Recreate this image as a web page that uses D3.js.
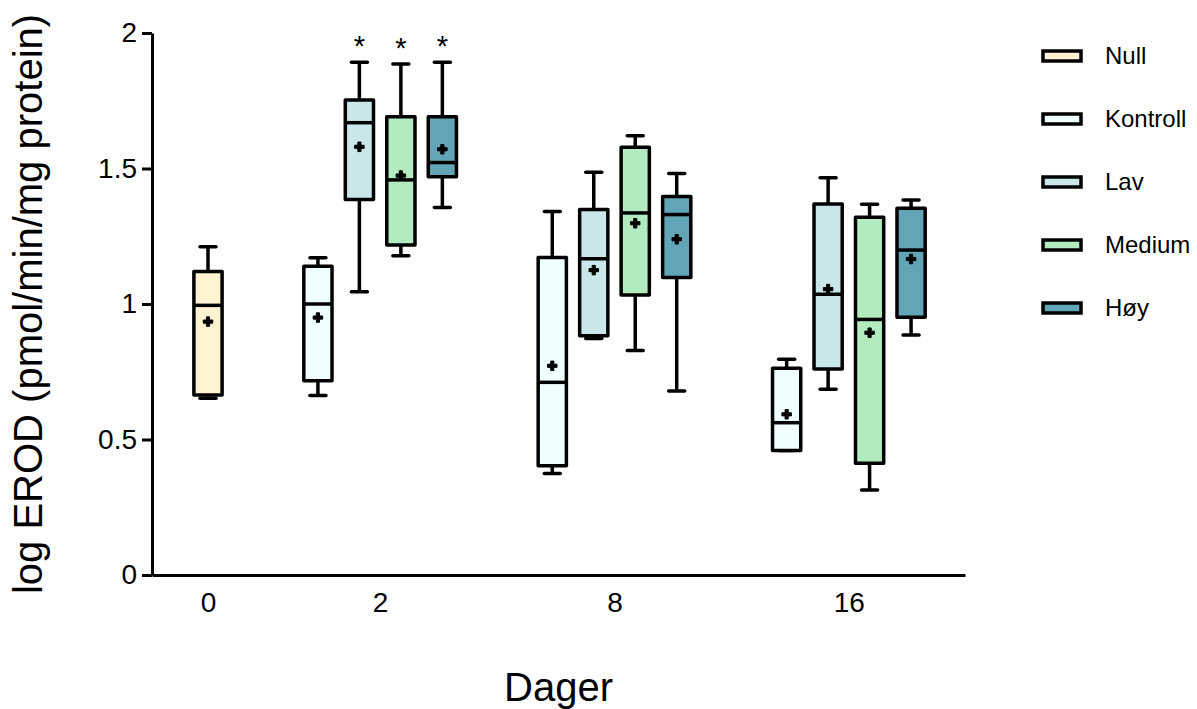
<!DOCTYPE html>
<html>
<head>
<meta charset="utf-8">
<script src="https://cdn.jsdelivr.net/npm/d3@7"></script>
<style>
  body { margin: 0; background: #fff; }
  svg { font-family: "Liberation Sans", Arial, sans-serif; }
</style>
</head>
<body>
<svg id="chart"></svg>
<script>
const days = ["0", "2", "8", "16"];
const series = ["Null", "Kontroll", "Lav", "Medium", "Høy"];
const seriesColors = ["#fff3d1", "#f0ffff", "#c9e6e9", "#b2ebbf", "#62a5b7"];

// one entry per box, in plotting order
const boxDays = ["0", "2", "2", "2", "2", "8", "8", "8", "8", "16", "16", "16", "16"];
const boxSeries = ["Null", "Kontroll", "Lav", "Medium", "Høy", "Kontroll", "Lav", "Medium", "Høy", "Kontroll", "Lav", "Medium", "Høy"];
const whiskerLow = [0.652, 0.662, 1.045, 1.178, 1.356, 0.375, 0.873, 0.828, 0.679, 0.459, 0.685, 0.314, 0.886];
const q1 = [0.664, 0.717, 1.386, 1.218, 1.470, 0.403, 0.883, 1.033, 1.098, 0.459, 0.760, 0.412, 0.951];
const medians = [0.995, 1.000, 1.669, 1.458, 1.522, 0.711, 1.167, 1.336, 1.330, 0.562, 1.036, 0.943, 1.199];
const q3 = [1.120, 1.139, 1.753, 1.691, 1.691, 1.172, 1.349, 1.578, 1.397, 0.763, 1.369, 1.320, 1.353];
const whiskerHigh = [1.211, 1.171, 1.892, 1.886, 1.892, 1.341, 1.486, 1.621, 1.482, 0.796, 1.466, 1.368, 1.384];
const means = [0.935, 0.950, 1.580, 1.474, 1.571, 0.772, 1.125, 1.298, 1.239, 0.593, 1.055, 0.894, 1.166];
const marks = ["", "", "*", "*", "*", "", "", "", "", "", "", "", ""];

const yTicks = [0, 0.5, 1, 1.5, 2];

const width = 1197, height = 709;
const margin = {top: 33, right: 232, bottom: 134, left: 152};

const svg = d3.select("#chart").attr("width", width).attr("height", height);

// slot position of each box: consecutive inside a day, extra gap between days
const gap = 1.65;
let slot = 0, prevDay = null;
const boxes = boxDays.map((day, i) => {
  if (prevDay !== null) slot += day === prevDay ? 1 : 1 + gap;
  prevDay = day;
  return {
    day, series: boxSeries[i], slot,
    low: whiskerLow[i], q1: q1[i], median: medians[i], q3: q3[i],
    high: whiskerHigh[i], mean: means[i], mark: marks[i]
  };
});

const x = d3.scaleLinear()
  .domain([-1.35, d3.max(boxes, d => d.slot) + 1.3])
  .range([margin.left, width - margin.right]);

const y = d3.scaleLinear()
  .domain([0, 2])
  .range([height - margin.bottom, margin.top]);

const color = d3.scaleOrdinal().domain(series).range(seriesColors);

const boxW = x(0.68) - x(0);
const capW = 16;
const lw = 3.5;

// day label sits under the middle of its boxes
const dayCenters = days.map(day => {
  const slots = boxes.filter(b => b.day === day).map(b => b.slot);
  return (d3.min(slots) + d3.max(slots)) / 2;
});

// axes
const yAxis = d3.axisLeft(y).tickValues(yTicks).tickFormat(d => d).tickSize(10).tickSizeOuter(0).tickPadding(5);
const xAxis = d3.axisBottom(x).tickValues(dayCenters).tickFormat((d, i) => days[i]).tickSize(0).tickSizeOuter(0).tickPadding(17);

const gx = svg.append("g")
  .attr("transform", `translate(0, ${height - margin.bottom})`)
  .call(xAxis);

const gy = svg.append("g")
  .attr("transform", `translate(${margin.left}, 0)`)
  .call(yAxis);

[gx, gy].forEach(g => {
  g.select(".domain").attr("stroke", "#000").attr("stroke-width", 3);
  g.selectAll(".tick line").attr("stroke", "#000").attr("stroke-width", 3);
  g.selectAll(".tick text").attr("fill", "#000").style("font-size", "28px").style("font-family", "'Liberation Sans', Arial, sans-serif");
});

// boxes
const box = svg.selectAll(".box")
  .data(boxes)
  .enter()
  .append("g")
  .attr("class", "box")
  .attr("transform", d => `translate(${x(d.slot)}, 0)`);

box.append("line")
  .attr("y1", d => y(d.low))
  .attr("y2", d => y(d.high))
  .attr("stroke", "#000")
  .attr("stroke-width", lw);

box.selectAll(".cap")
  .data(d => [d.low, d.high])
  .enter()
  .append("line")
  .attr("class", "cap")
  .attr("x1", -capW / 2)
  .attr("x2", capW / 2)
  .attr("y1", v => y(v))
  .attr("y2", v => y(v))
  .attr("stroke", "#000")
  .attr("stroke-width", lw)
  .attr("stroke-linecap", "round");

box.append("rect")
  .attr("x", -boxW / 2)
  .attr("width", boxW)
  .attr("y", d => y(d.q3))
  .attr("height", d => y(d.q1) - y(d.q3))
  .attr("fill", d => color(d.series))
  .attr("stroke", "#000")
  .attr("stroke-width", lw)
  .attr("stroke-linejoin", "round");

box.append("line")
  .attr("x1", -boxW / 2)
  .attr("x2", boxW / 2)
  .attr("y1", d => y(d.median))
  .attr("y2", d => y(d.median))
  .attr("stroke", "#000")
  .attr("stroke-width", lw);

box.append("path")
  .attr("d", d3.symbol().type(d3.symbolCross).size(50))
  .attr("transform", d => `translate(0, ${y(d.mean)})`)
  .attr("fill", "#000")
  .attr("stroke", "#000")
  .attr("stroke-width", 1)
  .attr("stroke-linejoin", "round");

box.filter(d => d.mark)
  .append("text")
  .attr("y", d => y(d.high) - 6)
  .attr("text-anchor", "middle")
  .style("font-size", "29px")
  .text(d => d.mark);

// axis titles
svg.append("text")
  .attr("transform", `translate(42, ${(margin.top + height - margin.bottom) / 2}) rotate(-90)`)
  .attr("text-anchor", "middle")
  .style("font-size", "40px")
  .text("log EROD (pmol/min/mg protein)");

svg.append("text")
  .attr("x", (margin.left + width - margin.right) / 2)
  .attr("y", 701)
  .attr("text-anchor", "middle")
  .style("font-size", "40px")
  .text("Dager");

// Legend
const legendY = d3.scalePoint().domain(series).range([64, 316]);
const legend = svg.selectAll(".legend")
  .data(series)
  .enter()
  .append("g")
  .attr("class", "legend")
  .attr("transform", d => `translate(1043, ${legendY(d)})`);

legend.append("rect")
  .attr("y", -13)
  .attr("width", 38)
  .attr("height", 10)
  .attr("fill", d => color(d))
  .attr("stroke", "#000")
  .attr("stroke-width", lw);

legend.append("text")
  .attr("x", 62)
  .style("font-size", "24px")
  .text(d => d);
</script>
</body>
</html>
